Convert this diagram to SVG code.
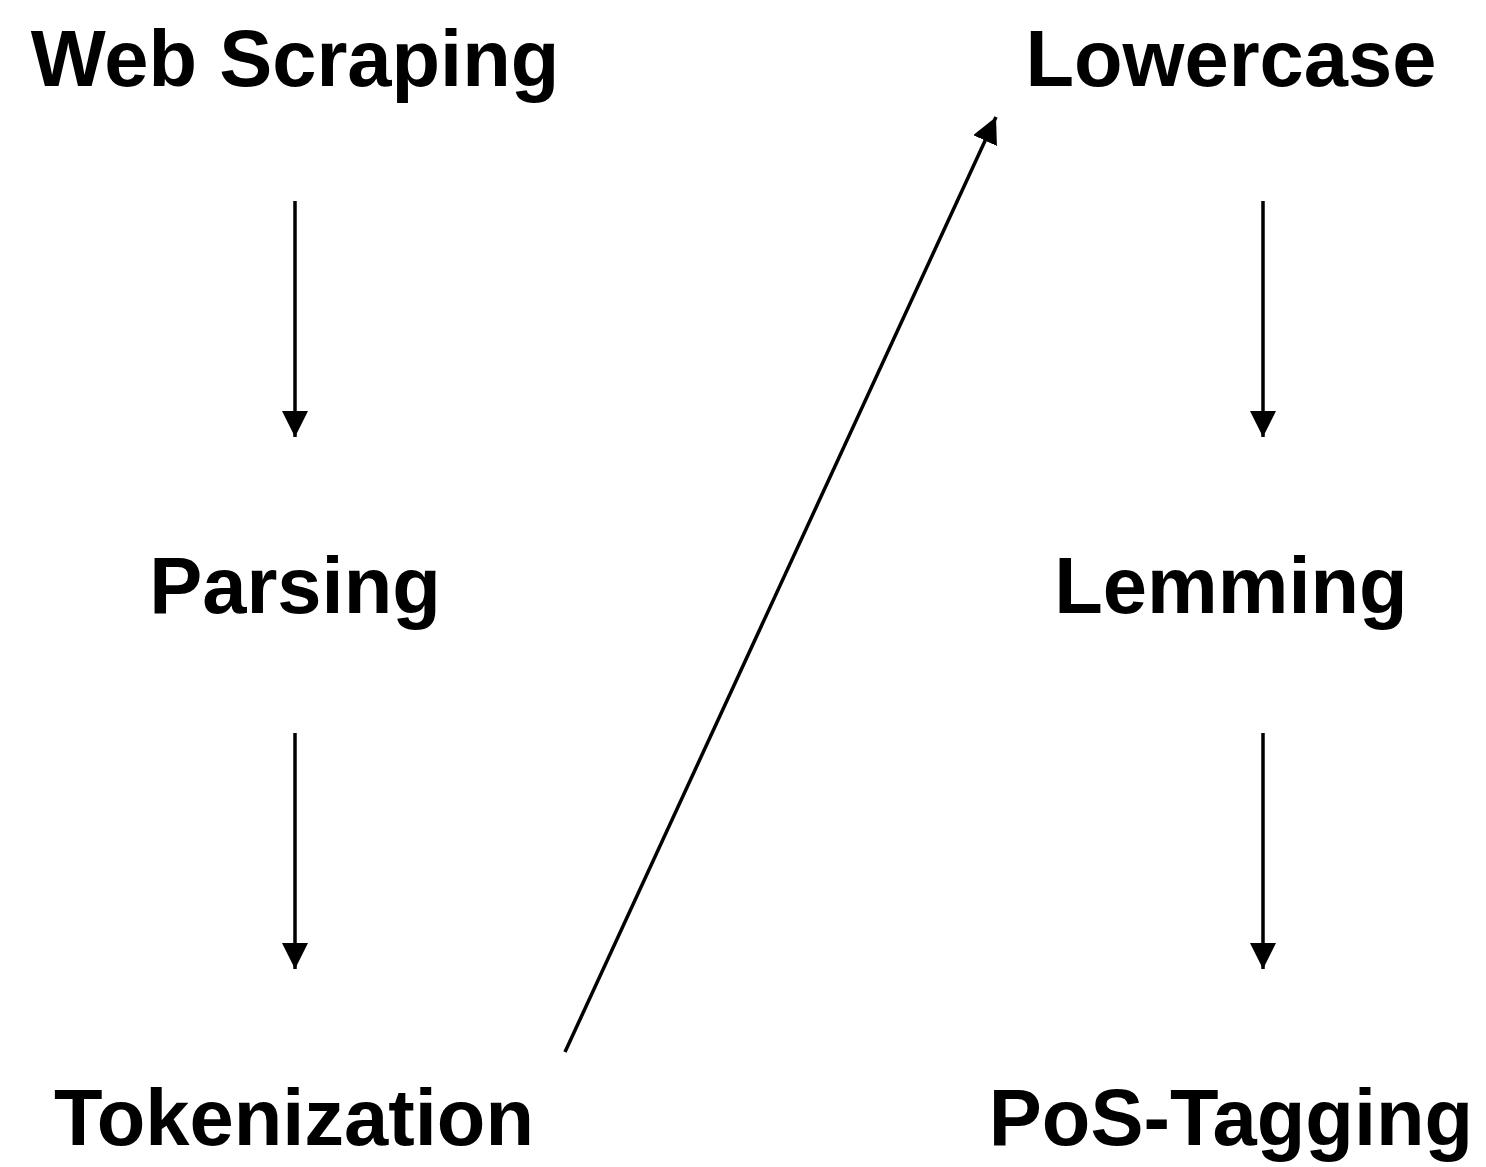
<svg xmlns="http://www.w3.org/2000/svg" width="1486" height="1167" viewBox="0 0 1486 1167">
<style>
.lbl{font-family:"Liberation Sans",Arial,sans-serif;font-weight:bold;font-size:79.5px;fill:#000;text-anchor:middle}
.edge{stroke:#000;stroke-width:3.5;fill:none;marker-end:url(#ah)}
</style>
<defs>
<marker id="ah" markerUnits="userSpaceOnUse" markerWidth="27" markerHeight="26" refX="26" refY="13" orient="auto">
<path d="M0,0 L26,13 L0,26 z" fill="#000"/>
</marker>
</defs>
<rect width="1486" height="1167" fill="#fff"/>
<g id="web-scraping"><text class="lbl" x="295" y="86">Web Scraping</text></g>
<g id="parsing"><text class="lbl" x="295" y="613">Parsing</text></g>
<g id="tokenization"><text class="lbl" x="294" y="1145">Tokenization</text></g>
<g id="lowercase"><text class="lbl" x="1231" y="86">Lowercase</text></g>
<g id="lemming"><text class="lbl" x="1231" y="613">Lemming</text></g>
<g id="pos-tagging"><text class="lbl" x="1231" y="1145">PoS-Tagging</text></g>
<g id="connectors">
<line class="edge" x1="295" y1="201" x2="295" y2="437"/>
<line class="edge" x1="295" y1="733" x2="295" y2="969"/>
<line class="edge" x1="565" y1="1052" x2="996" y2="117"/>
<line class="edge" x1="1263" y1="201" x2="1263" y2="437"/>
<line class="edge" x1="1263" y1="733" x2="1263" y2="969"/>
</g>
</svg>
